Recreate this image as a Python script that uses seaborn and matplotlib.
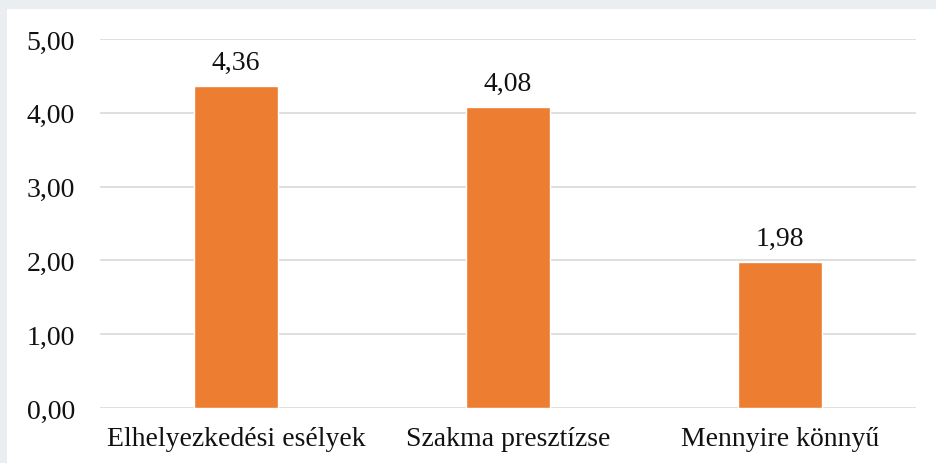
import matplotlib
matplotlib.use("Agg")
import matplotlib.pyplot as plt
import seaborn as sns
import pandas as pd
from matplotlib.patches import Rectangle

categories = ["Elhelyezkedési esélyek", "Szakma presztízse", "Mennyire könnyű"]
values = [4.36, 4.08, 1.98]
yticks = [0, 1, 2, 3, 4, 5]

sns.set_theme(style="white")
plt.rcParams['font.family'] = 'serif'
plt.rcParams['font.serif'] = ['Liberation Serif', 'Times New Roman', 'DejaVu Serif']

df = pd.DataFrame({"cat": categories, "val": values})

fig = plt.figure(figsize=(9.36, 4.64), dpi=100)
fig.patch.set_facecolor("#eaeef0")
fig.patches.append(Rectangle((7/936, 0), 1, (464-10)/464, transform=fig.transFigure,
                             facecolor="white", edgecolor="none", zorder=-10))
ax = fig.add_axes([100/936, 1-409/464, 816/936, (409-40)/464])
ax.set_facecolor("none")

sns.barplot(data=df, x="cat", y="val", color="#ED7D31", saturation=1, width=0.31, ax=ax, zorder=3)

ax.set_ylim(0, 5)
ax.set_yticks(yticks)
ax.set_yticklabels([f"{t:.2f}".replace(".", ",") for t in yticks], fontsize=20, color="#111111")
ax.tick_params(axis="y", length=0, pad=18)
ax.tick_params(axis="x", length=0, pad=13, labelsize=20, labelcolor="#111111")
ax.set_xlabel("")
ax.set_ylabel("")
ax.grid(axis="y", color="#d9d9d9", linewidth=1.2, zorder=0)
ax.set_axisbelow(True)
for s in ax.spines.values():
    s.set_visible(False)

for c in ax.containers:
    ax.bar_label(c, labels=[f"{v:.2f}".replace(".", ",") for v in values], padding=8,
                 fontsize=20, color="#111111")

fig.savefig("out.png", dpi=100, facecolor=fig.get_facecolor())
